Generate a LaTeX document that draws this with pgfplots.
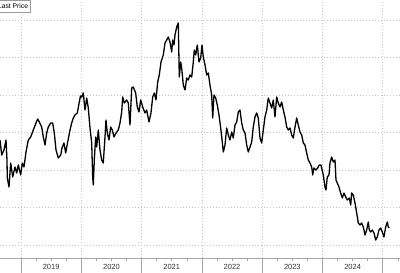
\documentclass[border=0pt]{standalone}
\usepackage{pgfplots}
\usepackage{pgfplotstable}
\pgfplotsset{compat=1.18}
\usepackage{fontspec}
\setmainfont{Liberation Sans}
\pgfplotstableread{
px py
0 140
1.7 155
4 150
6 140
7 160
7.3 178
9 187
10.7 163
12.7 177
15 167
16.7 173
18.3 165
20.7 175
22.3 163
24 167
26 152
28.3 140
30.7 137
33.3 130
36 123
37.7 119
39.3 122
41.7 127
43.3 137
45 145
46.7 133
48.3 127
50.7 123
52.7 123
54.3 133
56 150
58.3 158
60.7 155
62 148
64 143
65.7 153
67.7 142
70 130
71.7 123
73.3 118
75 115
77.3 113
79.3 102
80.5 96
81.7 97
83.3 93
85 110
86.7 98
88.3 108
90 128
91.7 143
92.7 177
93.3 185
94.3 160
95.7 137
96.7 147
98.3 130
100 150
101.7 160
103.3 163
105 137
106 120
107.3 133
109 140
110.7 127
112.3 130
114 137
116 133
118.3 130
120 123
121.7 112
122.7 97
124.3 103
126.7 100
128.3 103
130 125
131.7 88
133.3 87
135.7 93
137.3 107
139 112
140.7 100
142.7 107
145 113
146.7 110
149 122
151 113
152.7 97
154.3 93
156 100
157.7 82
159.3 75
161 62
163.3 55
165 43
166.7 40
168.3 37
170 42
171.7 52
172.7 40
174 45
175 35
176.7 27
178.3 23
179.3 77
180.7 62
181.7 68
183.3 85
185 90
186.7 78
188.3 80
190 75
191.7 77
193.3 62
194.3 50
195.7 55
197.3 45
199 62
200.7 58
202 45
203.3 57
205 65
206.7 75
208.3 73
210 85
211.7 95
212.7 118
214 95
215.7 98
217.3 105
219 115
220.7 128
222.3 142
223.3 152
225 145
226.7 128
228.3 135
230 140
231.7 132
233.3 138
235 125
236.7 122
238.3 112
240 110
241.7 123
243.3 130
245 133
246.7 145
248.3 152
250 147
251.7 142
253.3 127
255 117
256.7 113
258.3 118
260 138
261.7 143
263.3 130
265 117
266.7 110
268.3 98
270 103
271.7 108
273.3 100
275 117
276.7 97
278.3 103
280 107
281.7 102
283.3 110
285 117
286.7 127
288.3 130
290 128
291.7 135
293.3 138
295 127
296.7 118
298.3 125
300 132
301.7 135
303.3 143
305 145
306.7 153
308.3 160
310 163
311.7 167
312.7 175
314 168
316 170
317.7 168
319.3 165
321 165
321.7 168
323.3 175
325 187
326 190
327.3 177
329 175
330 163
331.7 157
333.3 162
335 160
336 180
337.3 183
339 187
340.7 193
342.3 198
344 193
345.7 197
347.3 200
349.3 198
350.7 205
351.7 193
353.3 195
355 203
356.7 213
358.3 223
360 225
361.7 223
363.3 227
365 235
366.7 230
368.3 222
369.3 230
370.7 232
372.3 230
374 233
375.7 240
377.3 237
379 230
380.7 228
382.3 232
384 237
385.7 227
387.3 222
388.3 227
389.3 228
}\pricedata
\begin{document}
\begin{tikzpicture}
\begin{axis}[
  at={(0,0)}, anchor=south west,
  scale only axis, width=449.1bp, height=258bp,
  xmin=2018.652, xmax=2026.1, ymin=0, ymax=258,
  axis x line*=bottom, axis y line*=left,
  x axis line style={draw=gray!70, line width=0.6bp},
  y axis line style={draw=none},
  xtick={2019,2020,2021,2022,2023,2024,2025,2026},
  x tick label as interval,
  xticklabels={2019,2020,2021,2022,2023,2024,2025},
  minor x tick num=3,
  tick align=outside,
  major tick length=15bp, minor tick length=3bp,
  xtick style={draw=gray!70, line width=0.6bp},
  minor x tick style={draw=gray!70, line width=0.5bp},
  xticklabel shift=-15bp,
  xticklabel style={font=\fontsize{7.5}{8}\selectfont, text=black!80, anchor=center, yshift=-8.5bp},
  ytick={13,50.5,88,125.5,163,200.5,238},
  yticklabels={}, ytick style={draw=none},
  grid=major,
  major grid style={draw=gray!45, line width=0.6bp, dash pattern=on 0.8bp off 2.2bp},
  clip=false,
]
\addplot[black, line width=1.3bp, line join=round] table[x expr=2018.652+\thisrow{px}/60.3, y expr=258-\thisrow{py}] {\pricedata};
\node[draw=gray!80, fill=white, line width=0.7bp, anchor=north east, inner xsep=2.5bp, inner ysep=3.6bp, font=\fontsize{6.8}{7}\selectfont] at (rel axis cs:0.069,1) {Last Price};
\end{axis}
\pgfresetboundingbox
\useasboundingbox (0,-15bp) rectangle (400bp,258bp);
\end{tikzpicture}
\end{document}
